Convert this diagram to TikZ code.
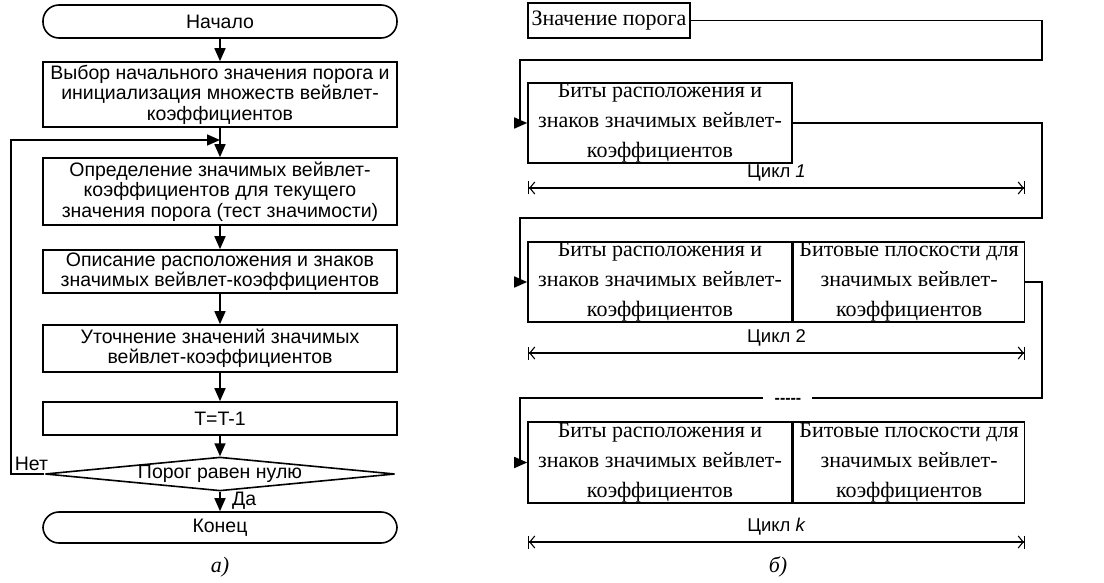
\documentclass[tikz,border=0pt]{standalone}
\usepackage{fontspec}
\setmainfont{Liberation Serif}
\setsansfont{Liberation Sans}
\usepackage{tikz}
\usetikzlibrary{arrows.meta}
\usetikzlibrary{shapes.geometric}
\newcommand*\blkfont{\sffamily\fontsize{19.5}{20.5}\selectfont}
\newcommand*\celfont{\rmfamily\fontsize{22}{28}\selectfont}
\newcommand*\cycfont{\sffamily\fontsize{18.5}{20}\selectfont}

\begin{document}
\begin{tikzpicture}[x=1pt,y=-1pt,>={Triangle[length=13pt,width=11pt]},line width=1.6pt]
			\tikzstyle{blk}=[rectangle,draw,minimum width=354pt,align=center,inner sep=0pt,font=\blkfont];
			\tikzstyle{term}=[blk,rounded corners=16pt];
			\tikzstyle{cell}=[rectangle,draw,align=center,inner sep=0pt,font=\celfont];
			\tikzstyle{cyc}=[{Bar[width=13pt]Straight Barb[length=5pt,width=12pt]}-{Straight Barb[length=5pt,width=12pt]Bar[width=13pt]},line width=1.1pt];
			\useasboundingbox(0,0)rectangle(1104,583);
			\node[term,minimum height=33pt](a)at(220,21.5){Начало};
			\node[blk,minimum height=65pt](b)at(220,94.5){Выбор начального значения порога и\\инициализация множеств вейвлет-\\коэффициентов};
			\node[blk,minimum height=67pt](c)at(220,191.5){Определение значимых вейвлет-\\коэффициентов для текущего\\значения порога (тест значимости)};
			\node[blk,minimum height=43pt](d)at(220,271.5){Описание расположения и знаков\\значимых вейвлет-коэффициентов};
			\node[blk,minimum height=47pt](e)at(220,348.5){Уточнение значений значимых\\вейвлет-коэффициентов};
			\node[blk,minimum height=33pt](t)at(220,418.5){T=T-1};
			\node[diamond,draw,aspect=10,minimum width=350pt,minimum height=33pt,inner sep=0pt,font=\blkfont](f)at(220,474){Порог равен нулю};
			\node[term,minimum height=31pt](g)at(220,527.5){Конец};
			\node[font=\blkfont,anchor=south west,inner sep=0pt](no)at(14,471){Нет};
			\coordinate(j)at(220,140);
			\coordinate(l)at(11,474);
			\draw[->](a)--(b);
			\draw[->](b)--(c);
			\draw[->](c)--(d);
			\draw[->](d)--(e);
			\draw[->](e)--(t);
			\draw[->](t)--(f);
			\draw[->](f)--node[right,xshift=8pt,font=\blkfont,pos=.45]{Да}(g);
			\draw[->](f.west)--(l)|-(j);
			\node[font=\celfont\itshape](ca)at(220,567){а)};
			\node[cell,minimum width=162pt,minimum height=35pt](p)at(609,20.5){Значение порога};
			\node[cell,minimum width=264pt,minimum height=80pt](q1)at(660,123){Биты расположения и\\[2pt]знаков значимых вейвлет-\\[2pt]коэффициентов};
			\node[cell,minimum width=264pt,minimum height=80pt](q2)at(660,282){Биты расположения и\\[2pt]знаков значимых вейвлет-\\[2pt]коэффициентов};
			\node[cell,minimum width=231pt,minimum height=80pt,anchor=west](r2)at(q2.east){Битовые плоскости для\\[2pt]значимых вейвлет-\\[2pt]коэффициентов};
			\node[cell,minimum width=264pt,minimum height=81pt](qk)at(660,462.5){Биты расположения и\\[2pt]знаков значимых вейвлет-\\[2pt]коэффициентов};
			\node[cell,minimum width=231pt,minimum height=81pt,anchor=west](rk)at(qk.east){Битовые плоскости для\\[2pt]значимых вейвлет-\\[2pt]коэффициентов};
			\coordinate(e1)at(1042,60);
			\coordinate(e2)at(1042,218);
			\coordinate(e3)at(1042,398);
			\coordinate(g1)at(812,398);
			\coordinate(g2)at(763,398);
			\draw[->](p)-|(e1)-|([xshift=-7pt]q1.west)--(q1);
			\draw[->](q1)-|(e2)-|([xshift=-7pt]q2.west)--(q2);
			\draw(r2)-|(e3)--(g1);
			\draw[->](g2)-|([xshift=-7pt]qk.west)--(qk);
			\node[font=\sffamily\bfseries\fontsize{16}{16}\selectfont,inner sep=0pt,anchor=base](dd)at(788,403){-{}-{}-{}-{}-};
			\coordinate(c1l)at(528,188);
			\coordinate(c1r)at(1025,188);
			\coordinate(c2l)at(528,353);
			\coordinate(c2r)at(1025,353);
			\coordinate(ckl)at(528,542);
			\coordinate(ckr)at(1025,542);
			\draw[cyc](c1l)--node[above=3pt,font=\cycfont]{Цикл \textit{1}}(c1r);
			\draw[cyc](c2l)--node[above=3pt,font=\cycfont]{Цикл 2}(c2r);
			\draw[cyc](ckl)--node[above=3pt,font=\cycfont]{Цикл \textit{k}}(ckr);
			\node[font=\celfont\itshape](cb)at(778,567){б)};
		\end{tikzpicture}
\end{document}
